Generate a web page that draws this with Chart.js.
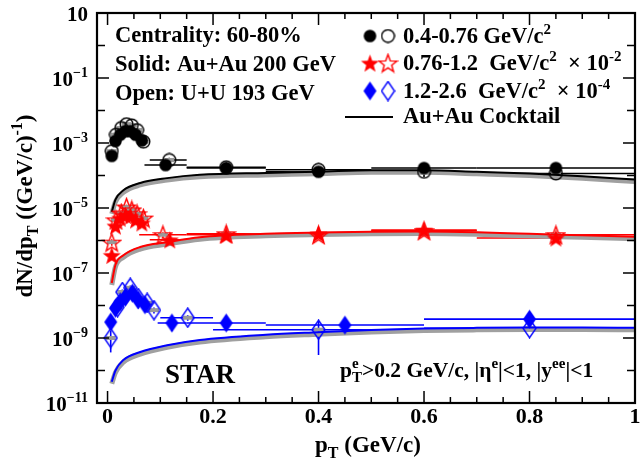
<!DOCTYPE html>
<html>
<head>
<meta charset="utf-8">
<script src="https://cdn.jsdelivr.net/npm/chart.js@4.4.0/dist/chart.umd.min.js"></script>
<style>
body{margin:0;background:#fff;}
#wrap{width:642px;height:462px;}
</style>
</head>
<body>
<div id="wrap"><canvas id="chart" width="642" height="462"></canvas></div>
<script>
// ---- values ----

// 0.4-0.76 GeV/c2, Au+Au (solid circles)
const blkAuPt  = [0.008,0.015,0.024,0.034,0.043,0.053,0.065,0.11,0.225,0.4,0.6,0.85];
const blkAuY   = [4.0e-4,1.15e-3,1.8e-3,2.3e-3,2.3e-3,1.8e-3,1.2e-3,2.1e-4,1.7e-4,1.3e-4,1.7e-4,1.7e-4];
const blkAuLo  = [null,null,null,null,null,null,null,0.07,0.15,0.3,0.5,0.7];
const blkAuHi  = [null,null,null,null,null,null,null,0.15,0.3,0.5,0.7,1.0];
const blkAuErr = [5e-5,1.5e-4,2e-4,2.5e-4,2.5e-4,2e-4,1.5e-4,3e-5,8e-5,3e-5,3e-5,3e-5];

// 0.4-0.76 GeV/c2, U+U (open circles)
const blkUuPt  = [0.008,0.016,0.026,0.036,0.046,0.056,0.068,0.117,0.225,0.4,0.6,0.85];
const blkUuY   = [5.6e-4,1.8e-3,2.9e-3,3.8e-3,3.5e-3,2.5e-3,1.1e-3,3.0e-4,1.8e-4,1.5e-4,1.3e-4,1.15e-4];
const blkUuLo  = [null,null,null,null,null,null,null,0.08,0.15,0.3,0.5,0.7];
const blkUuHi  = [null,null,null,null,null,null,null,0.15,0.3,0.5,0.7,1.0];
const blkUuErr = [1e-4,3e-4,4e-4,5e-4,5e-4,4e-4,2e-4,5e-5,3e-5,3e-5,4e-5,2e-5];

// 0.76-1.2 GeV/c2 x 1e-2, Au+Au (solid stars)
const redAuPt  = [0.008,0.015,0.024,0.034,0.043,0.053,0.065,0.118,0.225,0.4,0.6,0.85];
const redAuY   = [3.5e-7,2.8e-6,4.9e-6,6.0e-6,5.6e-6,4.3e-6,3.5e-6,1.05e-6,1.5e-6,1.6e-6,2.1e-6,1.2e-6];
const redAuLo  = [null,null,null,null,null,null,null,0.08,0.15,0.3,0.5,0.7];
const redAuHi  = [null,null,null,null,null,null,null,0.15,0.3,0.5,0.7,1.0];
const redAuErr = [1e-7,8e-7,1e-6,1.2e-6,1e-6,8e-7,6e-7,2e-7,3e-7,3e-7,3e-7,2e-7];

// 0.76-1.2 GeV/c2 x 1e-2, U+U (open stars)
const redUuPt  = [0.008,0.016,0.026,0.036,0.046,0.056,0.068,0.105,0.225,0.4,0.6,0.85];
const redUuY   = [8.9e-7,4.3e-6,7.0e-6,1.07e-5,8.7e-6,6.6e-6,4.9e-6,1.5e-6,1.6e-6,1.5e-6,2.0e-6,1.5e-6];
const redUuLo  = [null,null,null,null,null,null,null,0.06,0.15,0.3,0.5,0.7];
const redUuHi  = [null,null,null,null,null,null,null,0.15,0.3,0.5,0.7,1.0];
const redUuErr = [2e-7,1e-6,1.5e-6,2e-6,1.8e-6,1.4e-6,1e-6,3e-7,3e-7,3e-7,3e-7,3e-7];

// 1.2-2.6 GeV/c2 x 1e-4, Au+Au (solid diamonds)
const bluAuPt  = [0.006,0.015,0.024,0.034,0.047,0.058,0.071,0.122,0.225,0.45,0.8];
const bluAuY   = [3.1e-9,8.3e-9,1.3e-8,1.8e-8,2.4e-8,1.5e-8,1.05e-8,2.9e-9,2.9e-9,2.5e-9,3.8e-9];
const bluAuLo  = [null,null,null,null,null,null,null,0.095,0.15,0.3,0.6];
const bluAuHi  = [null,null,null,null,null,null,null,0.15,0.3,0.6,1.0];
const bluAuErr = [8e-10,2e-9,3e-9,4e-9,5e-9,3e-9,2e-9,1.3e-9,6e-10,4e-10,6e-10];

// 1.2-2.6 GeV/c2 x 1e-4, U+U (open diamonds)
const bluUuPt  = [0.006,0.019,0.028,0.043,0.058,0.075,0.088,0.152,0.4,0.8];
const bluUuY   = [1.0e-9,8.9e-9,2.6e-8,3.5e-8,1.7e-8,1.2e-8,7.2e-9,4.2e-9,1.8e-9,2.0e-9];
const bluUuLo  = [null,null,null,null,null,null,null,0.1,0.2,0.6];
const bluUuHi  = [null,null,null,null,null,null,null,0.2,0.6,1.0];
const bluUuErr = [6.4e-10,2e-9,5e-9,6e-9,3e-9,2e-9,1.5e-9,8e-10,1.5e-9,4e-10];

// Au+Au cocktail curves
const cocktailPt  = [0.008,0.015,0.03,0.062,0.113,0.175,0.3,0.4,0.5,0.6,0.7,0.8,0.9,1.0];
const cocktailBlk = [7.6e-6,1.8e-5,3.5e-5,5.9e-5,8.3e-5,1.05e-4,1.2e-4,1.3e-4,1.45e-4,1.45e-4,1.3e-4,1.15e-4,9.5e-5,7.5e-5];
const cocktailRed = [4.9e-8,1.8e-7,3.5e-7,6.3e-7,8.9e-7,1.26e-6,1.6e-6,1.75e-6,1.85e-6,1.9e-6,1.8e-6,1.6e-6,1.45e-6,1.3e-6];
const cocktailBlu = [4.5e-11,1.0e-10,2.1e-10,3.7e-10,6.0e-10,8.7e-10,1.26e-9,1.5e-9,1.75e-9,1.95e-9,2.05e-9,2.1e-9,2.1e-9,2.05e-9];

// axis ticks
const xTickLabels = ["0","0.2","0.4","0.6","0.8","1"];
const xTickValues = [0,0.2,0.4,0.6,0.8,1.0];
const yDecades = [1,0,-1,-2,-3,-4,-5,-6,-7,-8,-9,-10,-11];
const yLabelled = [1,-1,-3,-5,-7,-9,-11];

const RED = "#ff0000", BLUE = "#0000ff", BLACK = "#000000";
const FONT = '"Liberation Serif", "Times New Roman", serif';

// marker images (ROOT style markers)
function marker(shape, color, filled){
    const c = document.createElement("canvas");
    const w = shape === "circle" ? 15 : shape === "star" ? 21 : 15;
    const h = shape === "circle" ? 15 : 21;
    c.width = w; c.height = h;
    const g = c.getContext("2d");
    const cx = w / 2, cy = h / 2;
    g.beginPath();
    if(shape === "circle"){
        g.arc(cx, cy, 6.3, 0, Math.PI * 2);
    } else if(shape === "star"){
        for(let i = 0; i < 10; i++){
            const r = i % 2 ? 3.9 : 9.5;
            const a = -Math.PI / 2 + i * Math.PI / 5;
            if(i === 0) g.moveTo(cx + r * Math.cos(a), cy + 1 + r * Math.sin(a));
            else g.lineTo(cx + r * Math.cos(a), cy + 1 + r * Math.sin(a));
        }
        g.closePath();
    } else {
        g.moveTo(cx, cy - 9.5);
        g.lineTo(cx + 6.5, cy);
        g.lineTo(cx, cy + 9.5);
        g.lineTo(cx - 6.5, cy);
        g.closePath();
    }
    if(filled){
        g.fillStyle = color;
        g.fill();
    } else {
        g.lineWidth = 1.4;
        g.strokeStyle = color;
        g.stroke();
    }
    return c;
}

const mk = {
    blkAu: marker("circle", BLACK, true),  blkUu: marker("circle", BLACK, false),
    redAu: marker("star", RED, true),      redUu: marker("star", RED, false),
    bluAu: marker("diamond", BLUE, true),  bluUu: marker("diamond", BLUE, false)
};

function points(pt, y){
    return pt.map((v, i) => ({x: v, y: y[i]}));
}

function markerSet(pt, y, lo, hi, err, img, color, open){
    return {
        data: points(pt, y),
        pointStyle: img,
        pointRadius: 6,
        showLine: false,
        order: 1,
        err: {lo: lo, hi: hi, err: err, color: color, sys: open}
    };
}

function curve(y, color, width, order, band){
    return {
        data: points(cocktailPt, y),
        showLine: true,
        borderColor: color,
        borderWidth: width,
        pointRadius: 0,
        cubicInterpolationMode: "monotone",
        order: order,
        band: band
    };
}

// rich text: parts = [[text, mode, text2]]
function rich(ctx, x, y, parts, size, align){
    const small = Math.round(size * 0.68);
    const f = s => "bold " + s + "px " + FONT;
    const widths = parts.map(p => {
        if(p[1] === "n"){ ctx.font = f(size); return ctx.measureText(p[0]).width; }
        ctx.font = f(small);
        if(p[1] === "both") return Math.max(ctx.measureText(p[0]).width, ctx.measureText(p[2]).width);
        return ctx.measureText(p[0]).width;
    });
    const total = widths.reduce((a, b) => a + b, 0);
    let cx = align === "right" ? x - total : align === "center" ? x - total / 2 : x;
    ctx.textAlign = "left";
    ctx.textBaseline = "alphabetic";
    parts.forEach((p, i) => {
        if(p[1] === "n"){ ctx.font = f(size); ctx.fillText(p[0], cx, y); }
        else if(p[1] === "sup"){ ctx.font = f(small); ctx.fillText(p[0], cx, y - size * 0.42); }
        else if(p[1] === "sub"){ ctx.font = f(small); ctx.fillText(p[0], cx, y + size * 0.24); }
        else {
            ctx.font = f(small);
            ctx.fillText(p[0], cx, y - size * 0.42);
            ctx.fillText(p[2], cx, y + size * 0.24);
        }
        cx += widths[i];
    });
}

// the grey cocktail band sits slightly under its line
const bandShift = {
    id: "bandShift",
    beforeDatasetDraw(chart, args){
        if(args.meta._dataset.band){
            chart.ctx.save();
            chart.ctx.translate(0, 2);
        }
    },
    afterDatasetDraw(chart, args){
        if(args.meta._dataset.band) chart.ctx.restore();
    }
};

// error bars drawn under the markers
const errorBars = {
    id: "errorBars",
    beforeDatasetsDraw(chart){
        const {ctx, chartArea: a, scales: {x, y}} = chart;
        ctx.save();
        ctx.beginPath();
        ctx.rect(a.left, a.top, a.right - a.left, a.bottom - a.top);
        ctx.clip();
        chart.data.datasets.forEach(ds => {
            if(!ds.err) return;
            const e = ds.err;
            ds.data.forEach((p, i) => {
                const px = x.getPixelForValue(p.x), py = y.getPixelForValue(p.y);
                ctx.strokeStyle = e.color;
                ctx.lineWidth = 1.6;
                ctx.beginPath();
                if(e.lo[i] != null){
                    ctx.moveTo(x.getPixelForValue(e.lo[i]), py);
                    ctx.lineTo(x.getPixelForValue(e.hi[i]), py);
                }
                if(e.err[i]){
                    const low = p.y - e.err[i];
                    ctx.moveTo(px, low > 0 ? y.getPixelForValue(low) : a.bottom);
                    ctx.lineTo(px, y.getPixelForValue(p.y + e.err[i]));
                }
                ctx.stroke();
                if(e.sys){
                    ctx.fillStyle = "#9a9a9a";
                    ctx.fillRect(px - 5, py - 2, 10, 4);
                }
            });
        });
        ctx.restore();
    }
};

// frame, inward ticks, labels and text
const decorations = {
    id: "decorations",
    afterDraw(chart){
        const {ctx, chartArea: a, scales: {x, y}} = chart;
        ctx.save();
        ctx.strokeStyle = BLACK;
        ctx.fillStyle = BLACK;

        ctx.lineWidth = 1.5;
        ctx.beginPath();
        for(let i = 0; i <= 20; i++){
            const px = x.getPixelForValue(i * 0.05);
            const len = i % 4 === 0 ? 12 : 6;
            ctx.moveTo(px, a.bottom); ctx.lineTo(px, a.bottom - len);
            ctx.moveTo(px, a.top); ctx.lineTo(px, a.top + len);
        }
        yDecades.forEach(d => {
            const py = y.getPixelForValue(Math.pow(10, d));
            const len = yLabelled.includes(d) ? 12 : 8;
            ctx.moveTo(a.left, py); ctx.lineTo(a.left + len, py);
            ctx.moveTo(a.right, py); ctx.lineTo(a.right - len, py);
        });
        ctx.stroke();

        ctx.lineWidth = 2.2;
        ctx.strokeRect(a.left, a.top, a.right - a.left, a.bottom - a.top);

        // tick labels
        xTickValues.forEach((v, i) => {
            rich(ctx, x.getPixelForValue(v), a.bottom + 20, [[xTickLabels[i], "n"]], 22, "center");
        });
        yLabelled.forEach(d => {
            const py = y.getPixelForValue(Math.pow(10, d));
            const parts = d === 1 ? [["10", "n"]] : [["10", "n"], ["\u2212" + (-d), "sup"]];
            rich(ctx, 88, py + 8, parts, 21, "right");
        });

        // axis titles
        rich(ctx, 368, 452, [["p", "n"], ["T", "sub"], [" (GeV/c)", "n"]], 23, "center");
        ctx.save();
        ctx.translate(32, 206);
        ctx.rotate(-Math.PI / 2);
        rich(ctx, 0, 0, [["dN/dp", "n"], ["T", "sub"], [" ((GeV/c)", "n"], ["-1", "sup"], [")", "n"]], 23, "center");
        ctx.restore();

        // annotations
        rich(ctx, 115, 42, [["Centrality: 60-80%", "n"]], 22.5, "left");
        rich(ctx, 115, 71, [["Solid: Au+Au 200 GeV", "n"]], 22.5, "left");
        rich(ctx, 115, 100, [["Open: U+U 193 GeV", "n"]], 22.5, "left");
        rich(ctx, 165, 383, [["STAR", "n"]], 27, "left");
        rich(ctx, 340, 377, [["p", "n"], ["e", "both", "T"], [">0.2 GeV/c, |\u03b7", "n"], ["e", "sup"],
            ["|<1, |y", "n"], ["ee", "sup"], ["|<1", "n"]], 21.5, "left");

        // legend
        const rows = [
            {a: mk.blkAu, b: mk.blkUu, y: 36, t: [["0.4-0.76 GeV/c", "n"], ["2", "sup"]]},
            {a: mk.redAu, b: mk.redUu, y: 63, t: [["0.76-1.2  GeV/c", "n"], ["2", "sup"], ["  \u00d7 10", "n"], ["-2", "sup"]]},
            {a: mk.bluAu, b: mk.bluUu, y: 91, t: [["1.2-2.6  GeV/c", "n"], ["2", "sup"], ["  \u00d7 10", "n"], ["-4", "sup"]]}
        ];
        rows.forEach(r => {
            ctx.drawImage(r.a, 370 - r.a.width / 2, r.y - r.a.height / 2);
            ctx.drawImage(r.b, 388 - r.b.width / 2, r.y - r.b.height / 2);
            rich(ctx, 403, r.y + 7, r.t, 22.5, "left");
        });
        ctx.lineWidth = 2;
        ctx.beginPath();
        ctx.moveTo(345, 117); ctx.lineTo(393, 117);
        ctx.stroke();
        rich(ctx, 403, 123, [["Au+Au Cocktail", "n"]], 22.5, "left");

        ctx.restore();
    }
};

new Chart(document.getElementById("chart"), {
    type: "scatter",
    data: {
        datasets: [
            markerSet(blkAuPt, blkAuY, blkAuLo, blkAuHi, blkAuErr, mk.blkAu, BLACK, false),
            markerSet(blkUuPt, blkUuY, blkUuLo, blkUuHi, blkUuErr, mk.blkUu, BLACK, true),
            markerSet(redAuPt, redAuY, redAuLo, redAuHi, redAuErr, mk.redAu, RED, false),
            markerSet(redUuPt, redUuY, redUuLo, redUuHi, redUuErr, mk.redUu, RED, true),
            markerSet(bluAuPt, bluAuY, bluAuLo, bluAuHi, bluAuErr, mk.bluAu, BLUE, false),
            markerSet(bluUuPt, bluUuY, bluUuLo, bluUuHi, bluUuErr, mk.bluUu, BLUE, true),
            curve(cocktailBlk, BLACK, 2, 5, false),
            curve(cocktailRed, RED, 2, 5, false),
            curve(cocktailBlu, BLUE, 2, 5, false),
            curve(cocktailBlk, "#a0a0a0", 5, 6, true),
            curve(cocktailRed, "#a0a0a0", 5, 6, true),
            curve(cocktailBlu, "#a0a0a0", 5, 6, true)
        ]
    },
    options: {
        responsive: false,
        animation: false,
        layout: {padding: {left: 97, right: 2, top: 13, bottom: 59}},
        plugins: {legend: {display: false}, tooltip: {enabled: false}},
        scales: {
            x: {type: "linear", min: -0.02, max: 1, display: false},
            y: {type: "logarithmic", min: 1e-11, max: 10, display: false}
        }
    },
    plugins: [bandShift, errorBars, decorations]
});
</script>
</body>
</html>
